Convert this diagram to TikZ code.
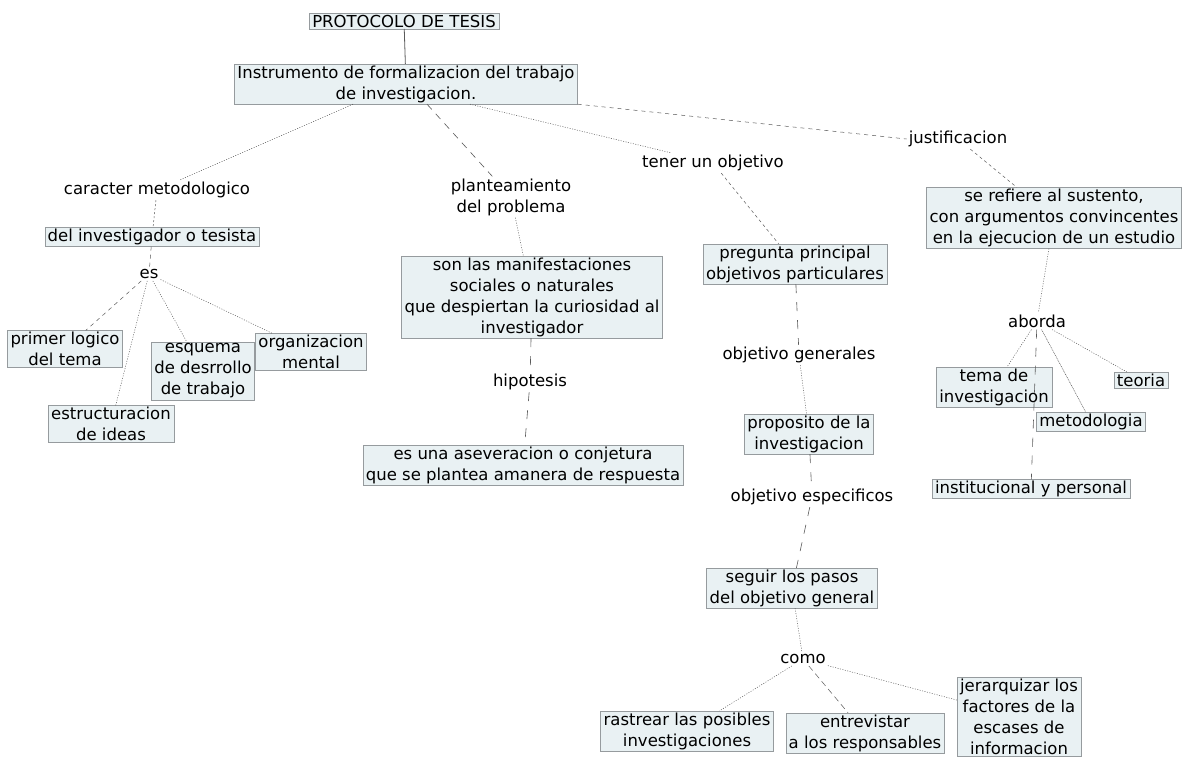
\documentclass[tikz,border=0pt]{standalone}
\usepackage{fontspec}
\setmainfont{DejaVu Sans}
\definecolor{boxfill}{RGB}{233,241,243}
\definecolor{boxedge}{RGB}{150,155,158}
\definecolor{linkc}{RGB}{90,90,90}
\newcommand{\mapfont}{\fontsize{16.5}{21}\selectfont}
\tikzset{
  box/.style={fill=boxfill, draw=boxedge, line width=0.4pt, inner xsep=3pt, inner ysep=1.5pt, align=center, font=\mapfont},
  lbl/.style={inner sep=2pt, align=center, font=\mapfont},
  solidln/.style={draw=linkc, line width=0.8pt},
  dotln/.style={draw=linkc, line width=0.5pt, dash pattern=on 1pt off 1.5pt},
  dashln/.style={draw=linkc, line width=0.5pt, dash pattern=on 4pt off 4pt},
  longdash/.style={draw=linkc, line width=0.6pt, dash pattern=on 9pt off 9pt},
}
\begin{document}
\begin{tikzpicture}[x=1pt,y=-1pt]
\useasboundingbox (0,0) rectangle (1190,758);
\fill[white] (0,0) rectangle (1190,758);

% nodes
\node[box] (proto) at (404,21) {PROTOCOLO DE TESIS};
\node[box] (instr) at (406,84) {Instrumento de formalizacion del trabajo\\de investigacion.};

\node[lbl] (carac) at (157,190) {caracter metodologico};
\node[box] (delinv) at (152,237) {del investigador o tesista};
\node[lbl] (es) at (149,274) {es};
\node[box] (primer) at (65,349) {primer logico\\del tema};
\node[box] (estruc) at (111,424) {estructuracion\\de ideas};
\node[box] (esquema) at (203,371) {esquema\\de desrrollo\\de trabajo};
\node[box] (organ) at (311,352) {organizacion\\mental};

\node[lbl] (plant) at (511,197) {planteamiento\\del problema};
\node[box] (son) at (532,297) {son las manifestaciones\\sociales o naturales\\que despiertan la curiosidad al\\investigador};
\node[lbl] (hipo) at (530,382) {hipotesis};
\node[box] (esuna) at (523,465) {es una aseveracion o conjetura\\que se plantea amanera de respuesta};

\node[lbl] (tener) at (713,163) {tener un objetivo};
\node[box] (preg) at (795,264) {pregunta principal\\objetivos particulares};
\node[lbl] (objgen) at (799,355) {objetivo generales};
\node[box] (prop) at (809,434) {proposito de la\\investigacion};
\node[lbl] (objesp) at (812,497) {objetivo especificos};
\node[box] (seguir) at (792,588) {seguir los pasos\\del objetivo general};
\node[lbl] (como) at (803,659) {como};
\node[box] (rastrear) at (687,731) {rastrear las posibles\\investigaciones};
\node[box] (entrev) at (865,733) {entrevistar\\a los responsables};
\node[box, anchor=north] (jerar) at (1019,677) {jerarquizar los\\factores de la\\escases de\\informacion};

\node[lbl] (justif) at (958,139) {justificacion};
\node[box] (seref) at (1054,218) {se refiere al sustento,\\con argumentos convincentes\\en la ejecucion de un estudio};
\node[lbl] (aborda) at (1037,321) {aborda};
\node[box] (tema) at (994,387) {tema de\\investigacion};
\node[box] (teoria) at (1141,380) {teoria};
\node[box] (metod) at (1091,422) {metodologia};
\node[box] (instit) at (1031,489) {institucional y personal};

% connectors
\draw[solidln] (proto) -- (instr);
\draw[dotln] ([xshift=-53pt]instr.south) -- (carac);
\draw[longdash, dash pattern=on 7pt off 6pt] ([xshift=21pt]instr.south) -- (plant);
\draw[dotln] ([xshift=64pt]instr.south) -- (tener);
\draw[dashln] (instr.south east) -- (justif.west);

\draw[dotln, dash pattern=on 2pt off 2pt] (carac) -- (delinv);
\draw[dashln] (delinv) -- (es);
\draw[dashln] (es) -- (primer);
\draw[dotln] (es) -- (estruc);
\draw[dotln] (es) -- (esquema);
\draw[dotln] (es) -- (organ);

\draw[dotln] (plant) -- (son);
\draw[longdash] (son) -- (hipo);
\draw[longdash] (hipo) -- (esuna);

\draw[dashln, dash pattern=on 3pt off 3pt] (tener) -- (preg);
\draw[longdash] (preg) -- (objgen);
\draw[dotln] (objgen) -- (prop);
\draw[longdash] (prop) -- (objesp);
\draw[longdash] (objesp) -- (seguir);
\draw[dotln] (seguir) -- (como);
\draw[dotln] (como) -- (rastrear);
\draw[dashln, dash pattern=on 6pt off 4pt] (como) -- (entrev);
\draw[dotln] (como) -- (jerar);

\draw[dashln, dash pattern=on 3pt off 3pt] (justif) -- (seref);
\draw[dotln] (seref) -- (aborda);
\draw[dotln] (aborda) -- (tema);
\draw[dotln] (aborda) -- (teoria);
\draw[dotln, dash pattern=on 1pt off 0.8pt] (aborda) -- (metod);
\draw[longdash] (aborda) -- (instit);
\end{tikzpicture}
\end{document}
